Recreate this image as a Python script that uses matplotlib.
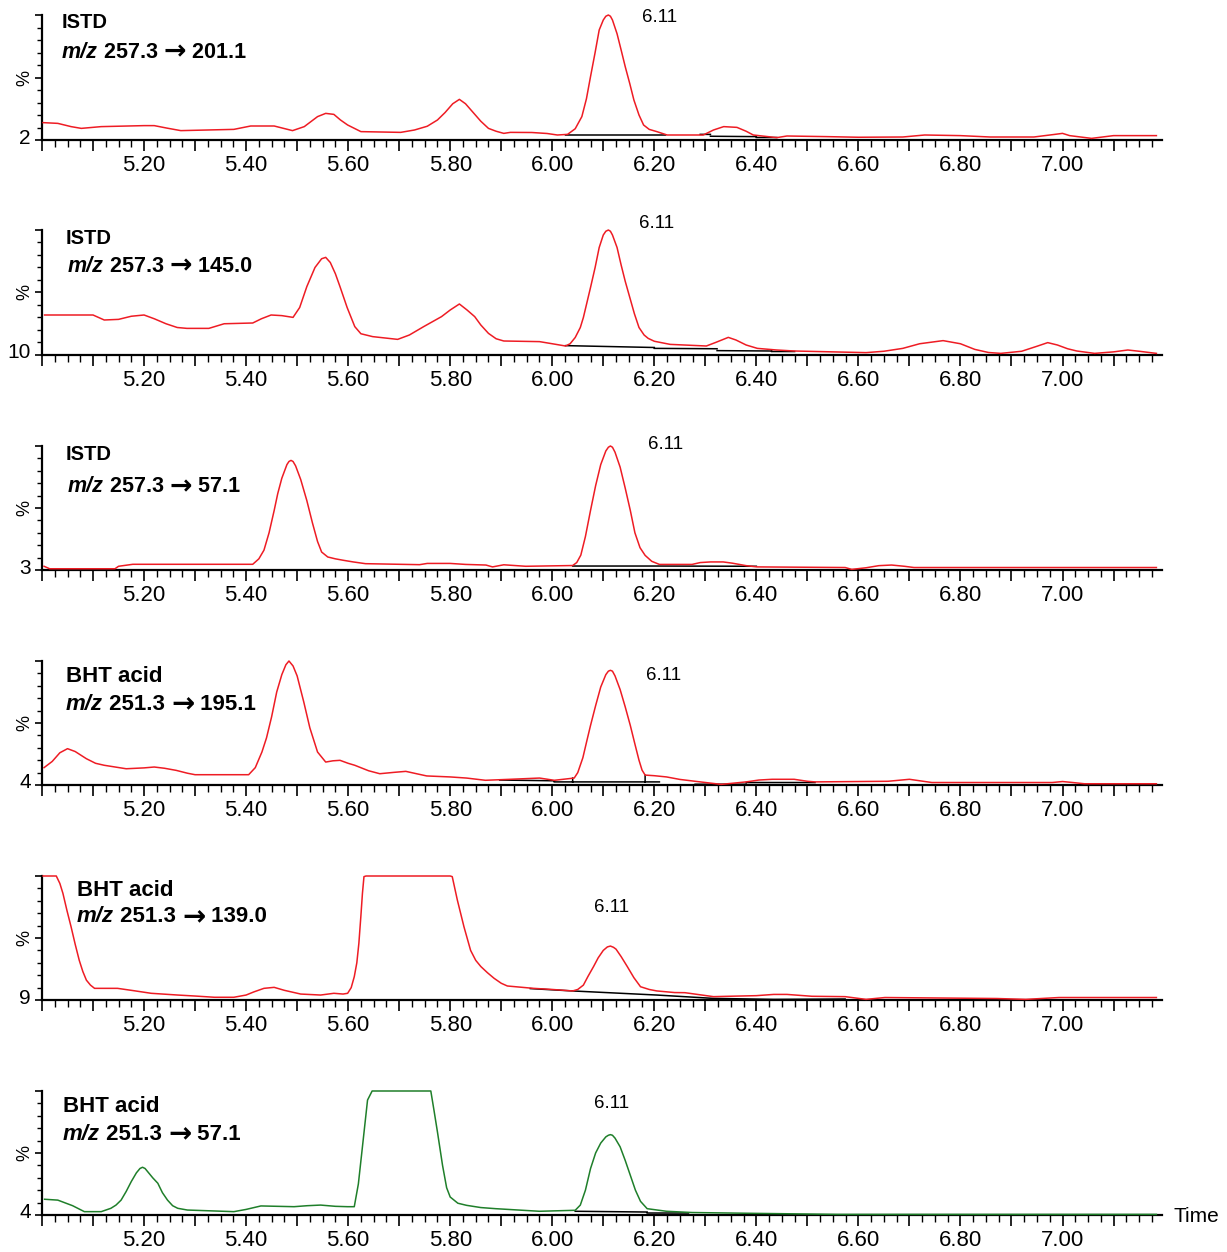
import numpy as np
import matplotlib
matplotlib.use("Agg")
import matplotlib.pyplot as plt
from matplotlib.text import Annotation
from matplotlib.ticker import FixedLocator, MultipleLocator, FuncFormatter

plt.rcParams['font.family'] = ['Liberation Sans', 'DejaVu Sans']

# -----------------------------
# DATA (time in min, intensity in %)
# -----------------------------
compounds = ["ISTD", "ISTD", "ISTD", "BHT acid", "BHT acid", "BHT acid"]
precursors = ["257.3", "257.3", "257.3", "251.3", "251.3", "251.3"]
products = ["201.1", "145.0", "57.1", "195.1", "139.0", "57.1"]
scale_labels = ["2", "10", "3", "4", "9", "4"]
rt_label = "6.11"
x_ticklabels_at = [5.2, 5.4, 5.6, 5.8, 6.0, 6.2, 6.4, 6.6, 6.8, 7.0]

p1_t = [5.002, 5.031, 5.057, 5.077, 5.116, 5.20, 5.22, 5.245, 5.272, 5.376, 5.409, 5.455,
        5.491, 5.514, 5.54, 5.556, 5.572, 5.585, 5.599, 5.625, 5.703, 5.73, 5.755, 5.775,
        5.79, 5.805, 5.818, 5.83, 5.845, 5.86, 5.875, 5.89, 5.905, 5.918, 5.96, 5.99, 6.01,
        6.03, 6.045, 6.058, 6.067, 6.075, 6.084, 6.092, 6.10, 6.105, 6.11, 6.114, 6.118,
        6.127, 6.135, 6.143, 6.152, 6.16, 6.17, 6.179, 6.19, 6.205, 6.225, 6.296, 6.316,
        6.336, 6.362, 6.38, 6.394, 6.44, 6.46, 6.538, 6.60, 6.687, 6.73, 6.80, 6.858,
        6.944, 6.985, 7.00, 7.014, 7.057, 7.10, 7.184]
p1_y = [13.9, 13.3, 10.7, 9.3, 10.7, 11.5, 11.5, 9.5, 7.5, 8.5, 11.2, 11.2,
        7.5, 10.7, 18.7, 21.3, 20.5, 16, 12, 6.7, 6.1, 8, 11, 16,
        22, 29, 32.5, 29, 22, 15, 9.3, 7, 5.3, 6.1, 6, 5.2, 4,
        4.5, 9, 18.7, 33, 50.7, 70, 88, 96, 99, 100, 99, 96,
        85, 72, 58.7, 45, 32, 20, 12, 8.5, 6.7, 4, 4, 8,
        10.7, 10.1, 7, 4, 1.9, 3.2, 2.7, 2.2, 2.4, 4, 3.5, 2.4,
        2.4, 4.5, 5.3, 3.5, 1.3, 3.5, 3.5]

p2_t = [5.005, 5.10, 5.122, 5.15, 5.175, 5.20, 5.22, 5.243, 5.265, 5.284, 5.327, 5.357,
        5.413, 5.43, 5.449, 5.47, 5.492, 5.505, 5.519, 5.535, 5.548, 5.556, 5.565, 5.575,
        5.584, 5.598, 5.613, 5.625, 5.648, 5.697, 5.72, 5.748, 5.783, 5.80, 5.818, 5.833,
        5.848, 5.86, 5.875, 5.89, 5.905, 5.975, 6.00, 6.026, 6.035, 6.045, 6.055, 6.061,
        6.068, 6.075, 6.084, 6.092, 6.10, 6.105, 6.11, 6.114, 6.118, 6.127, 6.135, 6.143,
        6.152, 6.161, 6.17, 6.18, 6.188, 6.20, 6.231, 6.302, 6.32, 6.345, 6.36, 6.38, 6.402,
        6.44, 6.474, 6.55, 6.615, 6.65, 6.687, 6.72, 6.766, 6.80, 6.828, 6.855, 6.879, 6.92,
        6.95, 6.971, 6.99, 7.01, 7.028, 7.063, 7.10, 7.128, 7.15, 7.184]
p2_y = [32, 32, 28, 28.5, 31, 32, 29, 25, 22, 21.3, 21.3, 25,
        25.6, 29, 32, 31.5, 30.1, 38, 54.7, 70, 77, 78.1, 74, 65,
        54.7, 38, 22.7, 17, 14.7, 12.5, 16, 22.7, 30.7, 36, 40.8, 36,
        30.7, 24, 17.3, 13, 11.2, 10.7, 9, 7.2, 9, 14, 22, 30,
        42, 54, 70, 86, 96, 99, 100, 99, 96, 86, 72, 59,
        46, 33, 22, 16, 13.3, 11, 8.5, 7.2, 10, 14.1, 12, 8, 5.3,
        4, 3.2, 2.5, 1.9, 3, 5.3, 9, 11.5, 9, 4.5, 2, 1.3, 3,
        7, 9.9, 8, 5, 3.2, 1.3, 2.5, 4, 3, 1.3]

p3_t = [5.004, 5.015, 5.143, 5.15, 5.178, 5.40, 5.413, 5.425, 5.435, 5.445, 5.455, 5.462,
        5.47, 5.48, 5.484, 5.488, 5.492, 5.497, 5.507, 5.519, 5.53, 5.54, 5.548, 5.56,
        5.575, 5.591, 5.61, 5.634, 5.70, 5.74, 5.755, 5.80, 5.83, 5.87, 5.883, 5.905, 5.948,
        6.04, 6.048, 6.056, 6.065, 6.075, 6.085, 6.095, 6.105, 6.11, 6.114, 6.118, 6.123,
        6.133, 6.143, 6.153, 6.162, 6.172, 6.182, 6.195, 6.21, 6.274, 6.29, 6.31, 6.335,
        6.353, 6.38, 6.402, 6.574, 6.587, 6.615, 6.64, 6.665, 6.69, 6.709, 7.184]
p3_y = [3, 1, 1, 3, 4.6, 4.6, 4.6, 9, 16, 30, 48, 61.6,
        74, 85, 87.5, 88.4, 87.5, 84, 73, 56, 38, 23, 14.5, 10.5,
        9, 7.8, 6.5, 5.1, 4.6, 4.3, 5.3, 5.3, 4.5, 4, 2.5, 4.2, 3,
        3.6, 6, 12, 27, 48, 68, 85, 96, 99, 100, 99, 95,
        83, 66, 48, 30, 18, 11.8, 7, 4.5, 4.5, 6, 6.5, 6.5,
        5.5, 3.5, 2.5, 2, 0.5, 1.8, 3.5, 4, 3, 2, 2]

p4_t = [5.004, 5.02, 5.035, 5.05, 5.065, 5.087, 5.105, 5.122, 5.165, 5.20, 5.22, 5.24,
        5.263, 5.285, 5.30, 5.405, 5.418, 5.431, 5.44, 5.45, 5.46, 5.47, 5.478, 5.484,
        5.492, 5.50, 5.513, 5.525, 5.54, 5.556, 5.57, 5.584, 5.60, 5.613, 5.64, 5.662,
        5.69, 5.713, 5.735, 5.754, 5.80, 5.832, 5.869, 5.918, 5.975, 6.004, 6.043, 6.05,
        6.06, 6.068, 6.075, 6.085, 6.095, 6.105, 6.11, 6.114, 6.118, 6.123, 6.133, 6.143,
        6.153, 6.162, 6.17, 6.176, 6.182, 6.20, 6.224, 6.25, 6.28, 6.331, 6.38, 6.405,
        6.431, 6.474, 6.50, 6.515, 6.658, 6.70, 6.744, 6.98, 7.00, 7.02, 7.043, 7.184]
p4_y = [14, 19, 26, 29.3, 27, 21.2, 17.5, 15.9, 13.1, 13.8, 14.5, 13.5,
        11.8, 9.5, 8.3, 8.3, 14, 26.6, 38, 55, 75, 89, 97, 100,
        96, 88, 67, 46, 26.6, 18.5, 19.5, 19.9, 17.5, 15.9, 11.5, 9.1,
        10.2, 11, 9, 7.3, 6.5, 5.6, 3.8, 4.6, 5.6, 3.8, 5.6, 10,
        22, 36, 48, 64, 79, 89, 91.8, 92.5, 91.8, 88, 77, 63,
        48, 33, 20, 12, 8, 7.5, 6.5, 4.5, 3, 0.5, 2.5, 4,
        4.6, 4.6, 3, 2.5, 3, 4.6, 2, 2, 2.8, 2, 1, 1]

p5_t = [5.002, 5.028, 5.035, 5.041, 5.049, 5.057, 5.065, 5.073, 5.08, 5.087, 5.095, 5.103,
        5.148, 5.18, 5.214, 5.266, 5.30, 5.338, 5.376, 5.40, 5.415, 5.435, 5.455, 5.475,
        5.507, 5.546, 5.572, 5.59, 5.599, 5.606, 5.612, 5.617, 5.621, 5.625, 5.628, 5.631,
        5.635, 5.80, 5.804, 5.814, 5.827, 5.84, 5.85, 5.86, 5.873, 5.886, 5.90, 5.912,
        5.963, 6.00, 6.04, 6.05, 6.061, 6.07, 6.081, 6.09, 6.10, 6.108, 6.114, 6.12, 6.125,
        6.135, 6.147, 6.16, 6.173, 6.19, 6.205, 6.24, 6.26, 6.316, 6.345, 6.40, 6.434, 6.46,
        6.509, 6.574, 6.615, 6.652, 6.871, 6.928, 6.993, 7.184]
p5_y = [100, 100, 94, 86, 72, 59, 45, 32, 23, 16, 12, 9.4,
        9.4, 7.5, 5.4, 4, 3.2, 2.2, 2.2, 4, 6.5, 9.4, 10.2, 7.8,
        4.8, 4, 5.4, 4.8, 5.4, 10, 18.8, 30, 45.7, 68, 86, 99.5,
        100, 100, 99.5, 80.6, 59, 40, 32, 27, 22, 17.5, 13.5, 11.3,
        9.4, 8.5, 7.3, 8.5, 12, 19, 27, 34, 40, 42.8, 43.5, 42.5, 41,
        35, 27, 18, 10.7, 8.5, 7.3, 6, 5.9, 2.7, 3, 3.5, 4.5, 4.5,
        3, 2.7, 0.5, 2, 1.2, 0.5, 2, 2]

p6_t = [5.005, 5.031, 5.06, 5.083, 5.116, 5.135, 5.145, 5.155, 5.165, 5.175, 5.185, 5.192,
        5.197, 5.202, 5.207, 5.217, 5.227, 5.236, 5.246, 5.256, 5.266, 5.285, 5.376, 5.40,
        5.429, 5.494, 5.52, 5.546, 5.575, 5.599, 5.612, 5.62, 5.628, 5.638, 5.647, 5.762,
        5.768, 5.775, 5.785, 5.793, 5.80, 5.815, 5.832, 5.86, 5.889, 5.975, 6.045, 6.055,
        6.065, 6.075, 6.085, 6.095, 6.105, 6.11, 6.114, 6.118, 6.123, 6.133, 6.143, 6.153,
        6.163, 6.173, 6.186, 6.224, 6.274, 6.40, 6.558, 7.184]
p6_y = [12.7, 12, 7.5, 2.7, 2.7, 5.4, 8, 12, 19, 27, 34, 37.5,
        38.5, 37.5, 35, 30, 25.6, 18, 12, 7.5, 5.4, 4, 2.7, 4.5,
        7.3, 6.7, 7.5, 8, 7, 6.7, 6.7, 25, 55, 92.7, 100, 100,
        85, 67, 40, 22, 14.5, 9.5, 7.8, 6, 5.1, 3, 3.8, 8,
        20, 37.4, 50, 58, 63, 64.3, 64.8, 64.3, 62, 55, 44, 32,
        20, 11, 5.1, 3, 2, 1.3, 0.5, 0.5]

# integration baselines (black), nan = break
p1_bt = [6.026, 6.222, np.nan, 6.29, 6.31, np.nan, 6.31, 6.40, np.nan, 6.40, 6.44]
p1_by = [4, 4, np.nan, 4.5, 4.5, np.nan, 3, 2.7, np.nan, 2, 2]
p2_bt = [6.026, 6.20, np.nan, 6.20, 6.323, np.nan, 6.323, 6.43, np.nan, 6.43, 6.475]
p2_by = [7.5, 6, np.nan, 5.3, 5, np.nan, 3.5, 3.2, np.nan, 2.8, 2.8]
p3_bt = [6.04, 6.21, 6.40]
p3_by = [3.2, 3.2, 3]
p4_bt = [5.897, 6.004, np.nan, 6.004, 6.21, np.nan, 6.04, 6.04, np.nan, 6.182, 6.182,
         np.nan, 6.28, 6.38, np.nan, 6.38, 6.515]
p4_by = [4, 3.4, np.nan, 2.5, 2.5, np.nan, 2.5, 5.6, np.nan, 2.5, 7.8,
         np.nan, 0.6, 0.6, np.nan, 2, 2]
p5_bt = [5.957, 6.04, 6.205, 6.316, 6.434, 6.574]
p5_by = [9.2, 7.3, 4, 1.3, 0.5, 0.8]
p6_bt = [6.045, 6.186, np.nan, 6.186, 6.267]
p6_by = [3, 2.4, np.nan, 1.6, 1.6]

traces = [(p1_t, p1_y), (p2_t, p2_y), (p3_t, p3_y), (p4_t, p4_y), (p5_t, p5_y), (p6_t, p6_y)]
baselines = [(p1_bt, p1_by), (p2_bt, p2_by), (p3_bt, p3_by), (p4_bt, p4_by),
             (p5_bt, p5_by), (p6_bt, p6_by)]
colors = ["#ee1c24"] * 5 + ["#1f7f2a"]

# -----------------------------
# LAYOUT (pixels of the 1227x1252 canvas)
# -----------------------------
W, H = 1227, 1252
AX_LEFT, AX_RIGHT = 42, 1162
PANEL_TOP = [15, 230, 446, 661, 876, 1091]
PANEL_BASE = [140, 355, 570, 785, 1000, 1215]
NAME_POS = [(62, 22), (66, 238), (66, 455), (66, 676), (77, 890), (63, 1106)]
TRANS_POS = [(62, 52), (68, 266), (68, 487), (66, 704), (77, 917), (63, 1134)]
RT_POS = [(660, 18), (657, 224), (666, 444), (664, 675), (612, 907), (612, 1103)]
NAME_FS = [14.5, 14.5, 14.5, 16, 16, 16]
TRANS_FS = [15.5, 15.5, 15.5, 16, 16, 16]


def fx(px):
    return px / W


def fy(py):
    return 1 - py / H


def chain(prev, s, **kw):
    # place a text piece right after the previous one, vertically centred
    a = Annotation(s, xy=(1, 0.5), xycoords=prev, va="center", ha="left", **kw)
    fig.add_artist(a)
    return a


fig = plt.figure(figsize=(W / 100, H / 100), dpi=100)

for i in range(6):
    top, base = PANEL_TOP[i], PANEL_BASE[i]
    ax = fig.add_axes([fx(AX_LEFT), fy(base), fx(AX_RIGHT - AX_LEFT), (base - top) / H])
    t, y = traces[i]
    ax.plot(t, y, color=colors[i], lw=1.1, clip_on=False, zorder=3)
    bt, by = baselines[i]
    ax.plot(bt, by, color="black", lw=1.1, zorder=2)

    ax.set_xlim(5.0, 7.195)
    ax.set_ylim(0, 100)
    for s in ["top", "right"]:
        ax.spines[s].set_visible(False)
    for s in ["left", "bottom"]:
        ax.spines[s].set_linewidth(1.6)

    ax.xaxis.set_major_locator(FixedLocator(np.round(np.arange(5.0, 7.15, 0.1), 2)))
    ax.xaxis.set_minor_locator(MultipleLocator(0.025))
    ax.xaxis.set_major_formatter(FuncFormatter(
        lambda v, pos: f"{v:.2f}" if any(abs(v - a) < 1e-6 for a in x_ticklabels_at) else ""))
    ax.tick_params(axis="x", which="major", length=8, width=1.2, labelsize=16, pad=3)
    ax.tick_params(axis="x", which="minor", length=5, width=1.0)

    ax.yaxis.set_major_locator(FixedLocator([0, 50, 100]))
    ax.yaxis.set_minor_locator(MultipleLocator(10))
    ax.yaxis.set_major_formatter(FuncFormatter(lambda v, pos: ""))
    ax.tick_params(axis="y", which="major", length=5, width=1.2)
    ax.tick_params(axis="y", which="minor", length=3.5, width=1.0)

    # scale label and percent sign
    fig.text(fx(31), fy(base - 2), scale_labels[i], ha="right", va="center", fontsize=15)
    fig.text(fx(25), fy((top + base) / 2), "%", ha="center", va="center",
             rotation=90, fontsize=13)

    # compound name and transition
    fig.text(fx(NAME_POS[i][0]), fy(NAME_POS[i][1]), compounds[i], ha="left", va="center",
             fontsize=NAME_FS[i], fontweight="bold")
    fs = TRANS_FS[i]
    mz = fig.text(fx(TRANS_POS[i][0]), fy(TRANS_POS[i][1]), "m/z", ha="left", va="center",
                  fontsize=fs, fontweight="bold", fontstyle="italic")
    p = chain(mz, " " + precursors[i] + " ", fontsize=fs, fontweight="bold")
    arr = chain(p, "\u2192", fontsize=fs * 1.25, fontweight="bold", family="DejaVu Sans")
    chain(arr, " " + products[i], fontsize=fs, fontweight="bold")

    # retention time annotation
    fig.text(fx(RT_POS[i][0]), fy(RT_POS[i][1]), rt_label, ha="center", va="center",
             fontsize=13.5)

fig.text(fx(1173), fy(1217), "Time", ha="left", va="center", fontsize=15)

fig.savefig("out.png", dpi=100)
